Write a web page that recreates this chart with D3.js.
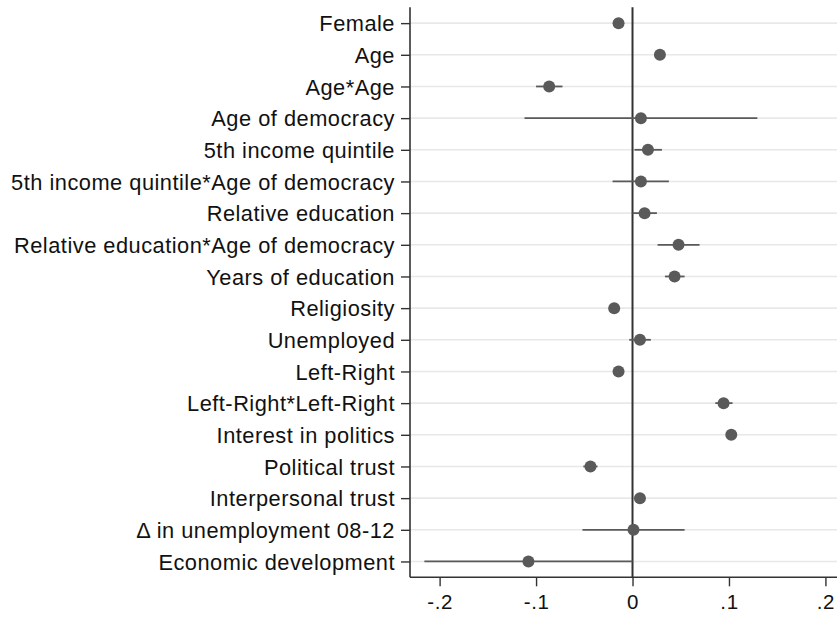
<!DOCTYPE html>
<html>
<head>
<meta charset="utf-8">
<script src="https://cdn.jsdelivr.net/npm/d3@7"></script>
<style>
  html, body { margin: 0; padding: 0; background: #fff; }
  svg { display: block; }
  text { font-family: "Liberation Sans", Arial, Helvetica, sans-serif; fill: #111; }
</style>
</head>
<body>
<svg id="chart" width="837" height="618"></svg>
<script>
// Coefficient estimates with confidence intervals
const variables = [
  "Female", "Age", "Age*Age", "Age of democracy", "5th income quintile",
  "5th income quintile*Age of democracy", "Relative education",
  "Relative education*Age of democracy", "Years of education", "Religiosity",
  "Unemployed", "Left-Right", "Left-Right*Left-Right", "Interest in politics",
  "Political trust", "Interpersonal trust", "\u0394 in unemployment 08-12",
  "Economic development"
];
const estimates = [
  -0.0145, 0.0284, -0.0864, 0.0087, 0.0160, 0.0087, 0.0125, 0.0477, 0.0436,
  -0.0190, 0.0077, -0.0145, 0.0944, 0.1024, -0.0436, 0.0077, 0.0010, -0.1079
];
const ciLower = [
  -0.0165, 0.0264, -0.1000, -0.1120, 0.0020, -0.0207, 0.0000, 0.0260, 0.0336,
  -0.0210, -0.0034, -0.0165, 0.0858, 0.1004, -0.0510, 0.0057, -0.0519, -0.2158
];
const ciUpper = [
  -0.0125, 0.0304, -0.0726, 0.1294, 0.0305, 0.0377, 0.0253, 0.0695, 0.0540,
  -0.0170, 0.0190, -0.0125, 0.1037, 0.1044, -0.0363, 0.0097, 0.0540, 0.0000
];
const xTicks = [-0.2, -0.1, 0, 0.1, 0.2];
const xTickLabels = ["-.2", "-.1", "0", ".1", ".2"];

const rows = variables.map((v, i) => ({
  name: v, est: estimates[i], lo: ciLower[i], hi: ciUpper[i]
}));

const svg = d3.select("#chart");
const plotLeft = 410, plotRight = 837, plotTop = 7.3, plotBottom = 577.3;

const x = d3.scaleLinear().domain([-0.2307, 0.212]).range([plotLeft, plotRight]);
const y = d3.scalePoint().domain(variables).range([plotTop, plotBottom]).padding(0.5);

// horizontal gridlines at each variable
svg.append("g")
  .selectAll("line")
  .data(variables)
  .join("line")
  .attr("x1", plotLeft).attr("x2", plotRight)
  .attr("y1", d => y(d)).attr("y2", d => y(d))
  .attr("stroke", "#e8e8e8").attr("stroke-width", 1.6);

// reference line at zero
svg.append("line")
  .attr("x1", x(0)).attr("x2", x(0))
  .attr("y1", plotTop).attr("y2", plotBottom)
  .attr("stroke", "#333").attr("stroke-width", 2);

// y axis
const yAxis = svg.append("g")
  .attr("transform", `translate(${plotLeft},0)`)
  .call(d3.axisLeft(y).tickSize(9).tickPadding(6));
yAxis.select(".domain").attr("stroke", "#333").attr("stroke-width", 1.6)
  .attr("d", `M0,${plotTop}V${plotBottom}`);
yAxis.selectAll(".tick line").attr("stroke", "#333").attr("stroke-width", 1.4);
yAxis.selectAll(".tick text")
  .style("font-size", "21.8px").style("letter-spacing", "0.5px")
  .attr("fill", "#111").attr("dy", "0.36em");

// x axis
const xAxis = svg.append("g")
  .attr("transform", `translate(0,${plotBottom})`)
  .call(d3.axisBottom(x).tickValues(xTicks)
    .tickFormat((d, i) => xTickLabels[i]).tickSize(9).tickPadding(8));
xAxis.select(".domain").attr("stroke", "#333").attr("stroke-width", 1.6)
  .attr("d", `M${plotLeft},0H${plotRight}`);
xAxis.selectAll(".tick line").attr("stroke", "#333").attr("stroke-width", 1.4);
xAxis.selectAll(".tick text")
  .style("font-size", "20.5px").style("letter-spacing", "0.6px")
  .attr("fill", "#111");

// confidence intervals
svg.append("g")
  .selectAll("line")
  .data(rows)
  .join("line")
  .attr("x1", d => x(d.lo)).attr("x2", d => x(d.hi))
  .attr("y1", d => y(d.name)).attr("y2", d => y(d.name))
  .attr("stroke", "#5a5a5a").attr("stroke-width", 1.8);

// point estimates
svg.append("g")
  .selectAll("circle")
  .data(rows)
  .join("circle")
  .attr("cx", d => x(d.est))
  .attr("cy", d => y(d.name))
  .attr("r", 6)
  .attr("fill", "#5a5a5a");
</script>
</body>
</html>
